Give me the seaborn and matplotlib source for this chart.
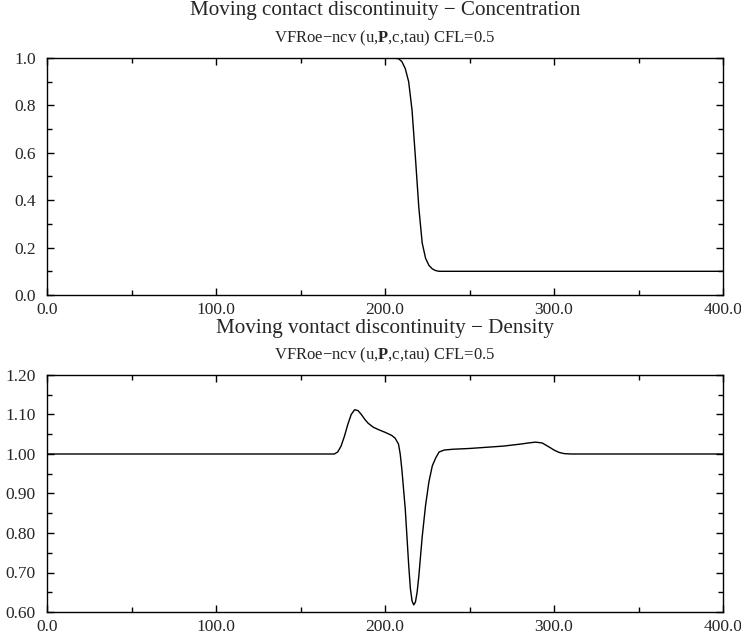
import numpy as np
import pandas as pd
import matplotlib
matplotlib.use("Agg")
import matplotlib.pyplot as plt
from matplotlib.ticker import MultipleLocator, FormatStrFormatter
import seaborn as sns

# ---- data ----
conc_x = [0, 200, 205, 208, 210, 212, 214, 216, 218, 220, 222, 224, 226, 228, 230, 232, 235, 240, 400]
conc_y = [1.0, 1.0, 1.0, 0.997, 0.985, 0.955, 0.90, 0.78, 0.58, 0.37, 0.22, 0.155, 0.125, 0.11, 0.103, 0.1, 0.1, 0.1, 0.1]

dens_x = [0, 170, 172, 174, 176, 178, 180, 182, 184, 186, 188, 190, 193, 196, 200, 204, 206, 208, 209, 210,
          212, 214, 215, 216, 217, 218, 219, 220, 222, 224, 226, 228, 230, 232, 235, 240, 250, 260, 270, 280,
          285, 289, 293, 297, 300, 303, 306, 310, 400]
dens_y = [1.0, 1.0, 1.005, 1.02, 1.045, 1.075, 1.10, 1.112, 1.11, 1.10, 1.088, 1.078, 1.068, 1.062, 1.055, 1.047, 1.04, 1.025, 1.0, 0.96,
          0.86, 0.72, 0.66, 0.628, 0.618, 0.625, 0.65, 0.69, 0.79, 0.87, 0.93, 0.97, 0.99, 1.005, 1.01, 1.012, 1.014, 1.017, 1.02, 1.025,
          1.028, 1.03, 1.028, 1.018, 1.01, 1.004, 1.001, 1.0, 1.0]

title_top = "Moving contact discontinuity \u2212 Concentration"
title_bot = "Moving vontact discontinuity \u2212 Density"
subtitle = "VFRoe\u2212ncv (u,$\\mathbf{P}$,c,tau) CFL=0.5"

sns.set_style("ticks")
plt.rcParams['font.family'] = ['Liberation Serif', 'DejaVu Serif']
plt.rcParams['mathtext.fontset'] = 'custom'
plt.rcParams['mathtext.rm'] = 'Liberation Serif'
plt.rcParams['mathtext.bf'] = 'Liberation Serif:bold'

fig = plt.figure(figsize=(7.41, 6.41), dpi=100)
W, H = 741, 641

def axes_px(l, t, r, b):
    return fig.add_axes([l / W, 1 - b / H, (r - l) / W, (b - t) / H])

ax1 = axes_px(47, 58, 723, 295)
ax2 = axes_px(47, 375, 723, 612)

sns.lineplot(x=conc_x, y=conc_y, ax=ax1, color='black', lw=1.0)
sns.lineplot(x=dens_x, y=dens_y, ax=ax2, color='black', lw=1.0)

for ax in (ax1, ax2):
    ax.set_xlim(0, 400)
    ax.xaxis.set_major_locator(MultipleLocator(100))
    ax.xaxis.set_minor_locator(MultipleLocator(50))
    ax.xaxis.set_major_formatter(FormatStrFormatter('%.1f'))
    ax.tick_params(which='both', direction='in', top=True, right=True, labelsize=12.5, width=1.0, color='black')
    ax.tick_params(which='major', length=5)
    ax.tick_params(which='minor', length=3.3)
    ax.tick_params(axis='x', pad=5)
    ax.tick_params(axis='y', pad=8)
    for s in ax.spines.values():
        s.set_linewidth(1.0)
        s.set_color('black')
    ax.set_xlabel('')
    ax.set_ylabel('')

ax1.set_ylim(0, 1.0)
ax1.yaxis.set_major_locator(MultipleLocator(0.2))
ax1.yaxis.set_minor_locator(MultipleLocator(0.1))
ax1.yaxis.set_major_formatter(FormatStrFormatter('%.1f'))

ax2.set_ylim(0.6, 1.2)
ax2.yaxis.set_major_locator(MultipleLocator(0.1))
ax2.yaxis.set_minor_locator(MultipleLocator(0.05))
ax2.yaxis.set_major_formatter(FormatStrFormatter('%.2f'))

fig.text(385 / W, 1 - 11 / H, title_top, ha='center', va='center', fontsize=15.2)
fig.text(385 / W, 1 - 38 / H, subtitle, ha='center', va='center', fontsize=12)
fig.text(385 / W, 1 - 328 / H, title_bot, ha='center', va='center', fontsize=15.2)
fig.text(385 / W, 1 - 355 / H, subtitle, ha='center', va='center', fontsize=12)

fig.savefig("out.png", dpi=100)
